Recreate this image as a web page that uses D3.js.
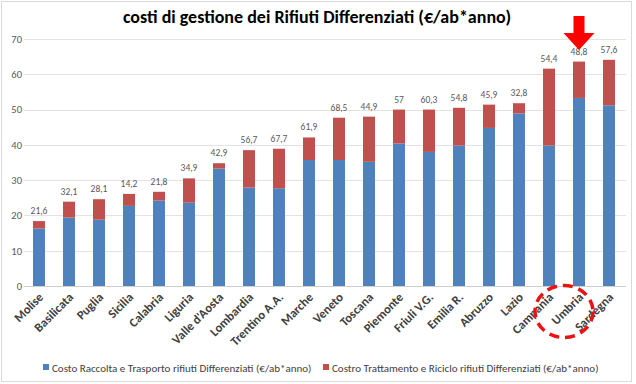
<!DOCTYPE html>
<html><head><meta charset="utf-8">
<script src="https://cdn.jsdelivr.net/npm/d3@7"></script>
<style>body{margin:0;background:#fff}svg{display:block}</style>
</head><body>
<script>
const categories = ["Molise","Basilicata","Puglia","Sicilia","Calabria","Liguria","Valle d'Aosta","Lombardia","Trentino A.A.","Marche","Veneto","Toscana","Piemonte","Friuli V.G.","Emilia R.","Abruzzo","Lazio","Campania","Umbria","Sardegna"];
const raccolta = [16.3,19.4,18.8,22.7,24.2,23.6,33.3,27.9,27.7,35.7,35.7,35.2,40.4,38.0,39.8,44.8,48.9,39.8,53.3,51.2];
const trattamento = [2.1,4.5,5.8,3.4,2.5,6.9,1.5,10.6,11.2,6.4,12.0,12.8,9.6,12.0,10.7,6.6,2.9,21.8,10.3,12.9];
const topLabels = ["21,6","32,1","28,1","14,2","21,8","34,9","42,9","56,7","67,7","61,9","68,5","44,9","57","60,3","54,8","45,9","32,8","54,4","48,8","57,6"];
const yTicks = [0,10,20,30,40,50,60,70];
const seriesNames = ["Costo Raccolta e Trasporto rifiuti Differenziati (€/ab*anno)","Costro Trattamento e Riciclo  rifiuti Differenziati (€/ab*anno)"];
const colors = ["#4f81bd","#c0504d"];
const highlight = "Umbria";

const W=636,H=384;
const font="Carlito, Lato, 'Open Sans', sans-serif";
const svg=d3.select("body").append("svg").attr("width",W).attr("height",H).style("font-family",font);
svg.append("rect").attr("x",1.5).attr("y",1.5).attr("width",630).attr("height",380).attr("fill","#fff").attr("stroke","#d9d9d9");

const x=d3.scaleBand().domain(categories).range([24,624]).paddingInner(0.6).paddingOuter(0.3);
const y=d3.scaleLinear().domain([0,70]).range([286,39]);

// grid
svg.append("g").selectAll("line").data(yTicks.slice(1)).join("line")
  .attr("x1",24).attr("x2",626).attr("y1",d=>Math.round(y(d))+0.5).attr("y2",d=>Math.round(y(d))+0.5)
  .attr("stroke","#e3e3e3");
// y axis labels
const yAxis=d3.axisLeft(y).tickValues(yTicks).tickSize(0).tickPadding(0);
const gy=svg.append("g").attr("transform","translate(22,0)").call(yAxis);
gy.select(".domain").remove();
gy.selectAll("text").attr("font-size",10.5).attr("fill","#595959").attr("font-family",font);

// stacks
const data=categories.map((c,i)=>({cat:c,a:raccolta[i],b:trattamento[i],label:topLabels[i]}));
const stack=d3.stack().keys(["a","b"])(data);
svg.append("g").selectAll("g").data(stack).join("g").attr("fill",(d,i)=>colors[i])
  .selectAll("rect").data(d=>d).join("rect")
  .attr("x",d=>x(d.data.cat)).attr("width",x.bandwidth())
  .attr("y",d=>y(d[1])).attr("height",d=>y(d[0])-y(d[1]));

// axis line
svg.append("line").attr("x1",24).attr("x2",626).attr("y1",286.5).attr("y2",286.5).attr("stroke","#d0d0d0");

// top labels
svg.append("g").selectAll("text").data(data).join("text")
  .attr("x",d=>x(d.cat)+x.bandwidth()/2).attr("y",d=>y(d.a+d.b)-7)
  .attr("text-anchor","middle").attr("font-size",9.5).attr("fill","#595959").text(d=>d.label);

// x labels
svg.append("g").selectAll("text").data(categories).join("text")
  .attr("transform",d=>`translate(${x(d)+x.bandwidth()/2+5},${298}) rotate(-45)`)
  .attr("text-anchor","end").attr("font-size",12.5).attr("font-weight","bold").attr("fill","#404040").text(d=>d);

// title
svg.append("text").attr("x",317).attr("y",23).attr("text-anchor","middle")
  .attr("font-size",18).attr("font-weight","bold").attr("fill","#000")
  .text("costi di gestione dei Rifiuti Differenziati (€/ab*anno)");

// legend
const legX=[43,323];
seriesNames.forEach((n,i)=>{
  svg.append("rect").attr("x",legX[i]).attr("y",364).attr("width",6).attr("height",6).attr("fill",colors[i]);
  svg.append("text").attr("x",legX[i]+9).attr("y",371.5).attr("font-size",11).attr("fill","#404040").text(n);
});

// arrow
const cx=x(highlight)+x.bandwidth()/2;
svg.append("path").attr("d",`M${cx-5.5},16 L${cx+5.5},16 L${cx+5.5},33 L${cx+15.5},33 L${cx},50 L${cx-15.5},33 L${cx-5.5},33 Z`).attr("fill","#ff0000");
// dashed ellipse
svg.append("ellipse").attr("cx",cx-15).attr("cy",311.5).attr("rx",29).attr("ry",26)
  .attr("fill","none").attr("stroke","#ee1111").attr("stroke-width",3.5).attr("stroke-dasharray","10,6");
</script>
</body></html>
